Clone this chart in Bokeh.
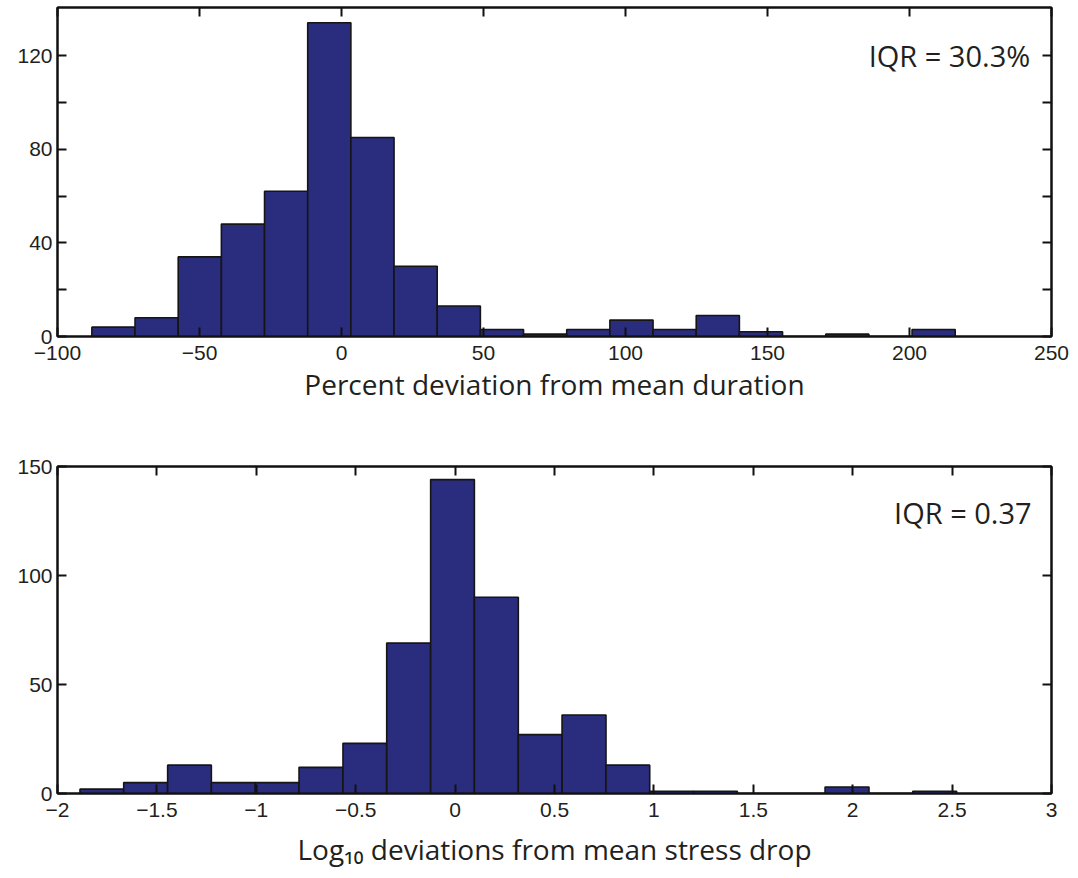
import numpy as np
from bokeh.plotting import figure
from bokeh.layouts import column
from bokeh.models import (ColumnDataSource, FixedTicker, LinearAxis, Label, Range1d,
                          CustomLabelingPolicy)
from bokeh.embed import file_html
from bokeh.resources import INLINE

# ---- data: top histogram (percent deviation from mean duration)
dur_edges = [-87.9, -72.7, -57.5, -42.3, -27.1, -11.9, 3.3, 18.5, 33.7, 48.9,
             64.1, 79.3, 94.5, 109.7, 124.9, 140.1, 155.3, 170.5, 185.7, 200.9, 216.1]
dur_counts = [4, 8, 34, 48, 62, 134, 85, 30, 13, 3, 1, 3, 7, 3, 9, 2, 0, 1, 0, 3]
dur_xticks = [-100, -50, 0, 50, 100, 150, 200, 250]
dur_xlabels = ["\u2212100", "\u221250", "0", "50", "100", "150", "200", "250"]
dur_yticks = [0, 20, 40, 60, 80, 100, 120]
dur_ylabels = ["0", "", "40", "", "80", "", "120"]
dur_iqr = "IQR = 30.3%"

# ---- data: bottom histogram (log10 deviations from mean stress drop)
sd_edges = [-1.887, -1.667, -1.446, -1.226, -1.005, -0.785, -0.564, -0.344, -0.123, 0.097,
            0.318, 0.538, 0.759, 0.979, 1.200, 1.420, 1.641, 1.861, 2.082, 2.302, 2.523]
sd_counts = [2, 5, 13, 5, 5, 12, 23, 69, 144, 90, 27, 36, 13, 1, 1, 0, 0, 3, 0, 1]
sd_xticks = [-2, -1.5, -1, -0.5, 0, 0.5, 1, 1.5, 2, 2.5, 3]
sd_xlabels = ["\u22122", "\u22121.5", "\u22121", "\u22120.5", "0", "0.5", "1", "1.5", "2", "2.5", "3"]
sd_yticks = [0, 50, 100, 150]
sd_ylabels = ["0", "50", "100", "150"]
sd_iqr = "IQR = 0.37"

BAR = "#2a2c7e"
TICK_FONT = "Liberation Sans"
LABEL_FONT = "Open Sans"
NO_LABELS = CustomLabelingPolicy(code="""
try { indices.clear() } catch (e) { for (const i of Array.from(indices)) indices.unset(i) }
return indices
""")


def make_hist(edges, counts, xr, yr, xticks, xlabels, yticks, ylabels, xlabel, iqr,
              frame_h, top_b, bot_b, label_standoff, iqr_pos):
    p = figure(frame_width=994, frame_height=frame_h, x_range=Range1d(*xr), y_range=Range1d(*yr),
               output_backend="svg", toolbar_location=None,
               min_border_left=57, min_border_right=27, min_border_top=top_b, min_border_bottom=bot_b)
    p.xaxis.visible = False
    p.yaxis.visible = False
    p.grid.visible = False
    p.outline_line_color = "#111111"
    p.outline_line_width = 2
    p.background_fill_color = "white"
    p.border_fill_color = "white"

    src = ColumnDataSource(dict(left=edges[:-1], right=edges[1:], top=counts,
                                bottom=[0] * len(counts)))
    p.quad(left="left", right="right", top="top", bottom="bottom", source=src,
           fill_color=BAR, line_color="#151515", line_width=1.6)

    def style(ax, show):
        ax.axis_line_color = "#111111"
        ax.axis_line_width = 2
        ax.major_tick_in = 9
        ax.major_tick_out = 0
        ax.major_tick_line_width = 2
        ax.major_tick_line_color = "#111111"
        ax.minor_tick_line_color = None
        ax.major_label_text_font = TICK_FONT
        ax.major_label_text_color = "#231f20"
        if show:
            ax.major_label_text_font_size = "21px"
        else:
            ax.major_label_text_font_size = "1px"
            ax.major_label_policy = NO_LABELS
            ax.major_label_standoff = 0

    xb = LinearAxis(ticker=FixedTicker(ticks=xticks),
                    major_label_overrides={t: l for t, l in zip(xticks, xlabels)})
    style(xb, True)
    xb.major_label_standoff = 9
    xb.axis_label = xlabel
    xb.axis_label_text_font = LABEL_FONT
    xb.axis_label_text_font_size = "28px"
    xb.axis_label_text_font_style = "normal"
    xb.axis_label_text_color = "#231f20"
    xb.axis_label_standoff = label_standoff
    p.add_layout(xb, "below")

    yl = LinearAxis(ticker=FixedTicker(ticks=yticks),
                    major_label_overrides={t: l for t, l in zip(yticks, ylabels)})
    style(yl, True)
    yl.major_label_standoff = 5
    p.add_layout(yl, "left")

    xt = LinearAxis(ticker=FixedTicker(ticks=xticks))
    style(xt, False)
    p.add_layout(xt, "above")
    yr_ax = LinearAxis(ticker=FixedTicker(ticks=yticks))
    style(yr_ax, False)
    p.add_layout(yr_ax, "right")

    p.add_layout(Label(x=iqr_pos[0], y=iqr_pos[1], text=iqr, text_font=LABEL_FONT,
                       text_font_size="29px", text_color="#231f20",
                       text_align="right", text_baseline="middle"))
    return p


p1 = make_hist(dur_edges, dur_counts, (-100, 250), (0, 140.5), dur_xticks, dur_xlabels,
               dur_yticks, dur_ylabels, "Percent deviation from mean duration", dur_iqr,
               329, 7, 94, 2, (242.5, 120))
p2 = make_hist(sd_edges, sd_counts, (-2, 3), (0, 150), sd_xticks, sd_xlabels,
               sd_yticks, sd_ylabels, "Log\u2081\u2080 deviations from mean stress drop", sd_iqr,
               327, 36, 85, 10, (2.9, 129))

layout = column(p1, p2, spacing=0)
open("out.html", "w").write(file_html(layout, INLINE))
